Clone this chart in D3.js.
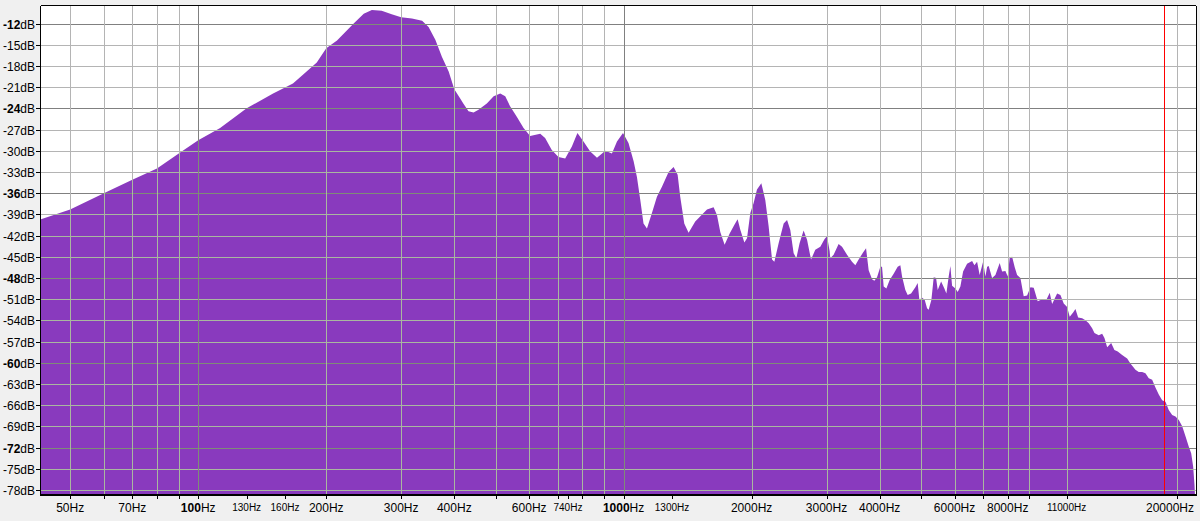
<!DOCTYPE html>
<html><head><meta charset="utf-8">
<script src="https://cdn.jsdelivr.net/npm/d3@7"></script>
<style>html,body{margin:0;padding:0;background:#f0f0f0;}svg{display:block;}</style>
</head><body>
<svg id="c" width="1200" height="521"></svg>
<script>
// Spectrum data (frequency in Hz, level in dB)
const freqs = [
42.7,50,60,70,80,90,100,112.6,130,150,
167,176,190,200,212,232,245,256,270,285,
300,318,336,348,361,374,388,400,413,420,
432,444,456,477,495,513,527,541,561,582,
603,637,654,678,703,729,756,779,805,835,
866,906,939,965,997,1027,1056,1075,1095,1114,
1135,1166,1198,1231,1276,1311,1340,1359,1389,1422,
1474,1542,1571,1628,1658,1688,1728,1776,1821,1854,
1882,1923,1951,1986,2022,2059,2108,2154,2193,2234,
2262,2315,2379,2423,2466,2511,2548,2593,2650,2700,
2759,2823,2901,2969,3009,3051,3062,3118,3203,3263,
3352,3444,3506,3570,3656,3716,3769,3839,3887,3944,
4015,4052,4088,4148,4223,4315,4410,4474,4516,4597,
4655,4742,4853,4914,4959,5033,5104,5170,5216,5293,
5360,5429,5477,5579,5678,5740,5812,5866,5920,6027,
6103,6192,6284,6421,6598,6680,6778,6874,7002,7091,
7157,7218,7352,7485,7661,7761,7902,8000,8088,8194,
8310,8418,8570,8724,8886,9047,9209,9411,9639,9865,
10044,10174,10454,10642,10834,11036,11192,11400,11543,11714,
11970,12185,12406,12636,12794,13095,13339,13506,13706,14006,
14256,14514,14863,15272,15545,15972,16261,16564,16862,17167,
17486,17800,18122,18459,18793,19130,19486,19839,20199,20575,
20943,21322,21599,21834,21990,22050];
const dbs = [
-39.7,-38.3,-36.0,-34.1,-32.5,-30.4,-28.5,-26.8,-24.0,-21.9,
-20.5,-19.3,-17.5,-15.5,-14.4,-12.0,-10.6,-10.1,-10.2,-10.7,
-11.1,-11.3,-11.6,-12.5,-14.3,-16.7,-18.8,-21.3,-22.6,-23.3,
-24.4,-24.6,-24.2,-23.3,-22.3,-21.9,-22.3,-23.7,-25.2,-26.8,
-27.9,-27.6,-28.2,-29.9,-30.9,-31.1,-29.4,-27.5,-28.7,-30.1,
-31.0,-30.0,-30.4,-28.7,-27.5,-28.9,-31.5,-33.7,-37.0,-40.3,
-41.0,-38.8,-36.5,-35.1,-33.0,-32.3,-33.4,-36.5,-40.3,-41.6,
-40.0,-38.8,-38.3,-38.0,-39.1,-41.5,-43.3,-41.7,-40.5,-39.7,
-41.2,-43.0,-42.4,-38.8,-37.4,-35.5,-34.6,-37.0,-40.7,-45.4,
-45.7,-43.1,-40.3,-39.8,-41.2,-44.5,-45.2,-43.1,-41.3,-42.6,
-45.4,-44.0,-43.6,-42.5,-42.1,-44.2,-45.2,-44.7,-43.2,-43.6,
-44.7,-45.7,-46.2,-45.4,-44.4,-43.8,-46.9,-48.2,-48.4,-47.9,
-46.4,-46.4,-49.2,-49.5,-48.3,-47.4,-46.4,-46.2,-47.8,-49.7,
-50.4,-50.2,-49.3,-48.7,-51.1,-50.8,-51.1,-52.3,-52.5,-51.1,
-47.9,-48.0,-49.7,-48.5,-49.5,-50.2,-47.8,-46.3,-49.1,-49.5,
-50.0,-49.2,-47.1,-46.0,-45.6,-46.2,-45.7,-47.6,-45.7,-47.8,
-46.4,-46.3,-48.0,-47.6,-45.9,-47.1,-47.0,-47.8,-45.1,-45.0,
-46.5,-47.6,-48.0,-50.6,-50.5,-49.3,-49.4,-51.3,-51.0,-51.1,
-50.1,-51.7,-50.2,-50.4,-51.6,-52.1,-53.5,-52.9,-52.4,-53.6,
-53.7,-54.0,-54.4,-55.1,-55.8,-56.1,-55.9,-56.5,-57.8,-57.2,
-58.2,-58.4,-58.9,-59.4,-60.1,-61.0,-61.3,-61.3,-61.5,-62.2,
-62.4,-63.5,-64.5,-65.3,-65.5,-66.7,-67.4,-67.6,-68.1,-69.0,
-70.4,-71.9,-72.8,-74.7,-77.3,-79.0];

// Axis ticks / labels
const yTickValues = [-12,-15,-18,-21,-24,-27,-30,-33,-36,-39,-42,-45,-48,-51,-54,-57,-60,-63,-66,-69,-72,-75,-78];
const yMajorValues = [-12,-24,-36,-48,-60,-72];
const xTickValues = [50,60,70,80,90,100,130,160,200,300,400,500,600,700,740,800,900,1000,1300,2000,3000,4000,5000,6000,7000,8000,9000,11000,20000];
const xGridMinor = [50,60,70,80,90,200,300,400,500,600,700,800,900,2000,3000,4000,5000,6000,7000,8000,9000,11000,20000];
const xGridMajor = [100,1000];
const xLabelValues = [50,70,100,130,160,200,300,400,600,740,1000,1300,2000,3000,4000,6000,8000,11000,20000];
const xLabelBold = [100,1000];
const xLabelSmall = [130,160,740,1300,11000];
const cursorFreq = [18720];

const svg = d3.select('#c');
const L=41, R=1196, T=6, B=494;
const x = d3.scaleLog().domain([42.7, 22050]).range([41, 1195]);
const y = d3.scaleLinear().domain([-78.57, -9.52]).range([494, 6]);
const FONT = "'Liberation Sans', Arial, sans-serif";

svg.append('rect').attr('width',1200).attr('height',521).attr('fill','#f0f0f0');
svg.append('rect').attr('x',L).attr('y',T).attr('width',R-L).attr('height',B-T).attr('fill','#ffffff');

const defs = svg.append('defs');
defs.append('clipPath').attr('id','plotclip').append('rect').attr('x',L).attr('y',T).attr('width',R-L).attr('height',B-T);

const pts = freqs.map((f,i)=>[f,dbs[i]]);
const area = d3.area().x(d=>x(d[0])).y0(B).y1(d=>y(d[1])).curve(d3.curveLinear);
const areaPath = area(pts);
defs.append('clipPath').attr('id','areaclip').append('path').attr('d',areaPath);

const g = svg.append('g').attr('clip-path','url(#plotclip)');
g.append('path').attr('d',areaPath).attr('fill','#893abe');

function drawGrid(parent, colMinor, colMajor){
  const gg = parent.append('g').attr('shape-rendering','crispEdges');
  yTickValues.forEach(v=>{
    const yy = Math.round(y(v))+0.5;
    gg.append('line').attr('x1',L).attr('x2',R).attr('y1',yy).attr('y2',yy)
      .attr('stroke', yMajorValues.includes(v)?colMajor:colMinor).attr('stroke-width',1);
  });
  xGridMinor.forEach(v=>{
    const xx = Math.round(x(v))+0.5;
    gg.append('line').attr('x1',xx).attr('x2',xx).attr('y1',T).attr('y2',B).attr('stroke',colMinor);
  });
  xGridMajor.forEach(v=>{
    const xx = Math.round(x(v))+0.5;
    gg.append('line').attr('x1',xx).attr('x2',xx).attr('y1',T).attr('y2',B).attr('stroke',colMajor);
  });
  return gg;
}
drawGrid(g, '#b4b4b4', '#808080');
const ga = g.append('g').attr('clip-path','url(#areaclip)');
drawGrid(ga, '#a9b79f', '#7f8c77');

// cursor (drawn above everything in the plot)
svg.append('g').attr('shape-rendering','crispEdges').selectAll('line.cur').data(cursorFreq).enter().append('line')
  .attr('class','cur')
  .attr('x1',d=>Math.floor(x(d))+0.5).attr('x2',d=>Math.floor(x(d))+0.5)
  .attr('y1',T).attr('y2',B)
  .style('stroke','#ff0000').style('stroke-width','1px');

// frame
const fr = svg.append('g').attr('shape-rendering','crispEdges');
fr.append('line').attr('x1',L-0.5).attr('x2',R).attr('y1',T-0.5).attr('y2',T-0.5).attr('stroke','#000');
fr.append('line').attr('x1',L-0.5).attr('x2',L-0.5).attr('y1',T-0.5).attr('y2',B+1).attr('stroke','#000');
fr.append('line').attr('x1',R+0.5).attr('x2',R+0.5).attr('y1',T-0.5).attr('y2',B+1).attr('stroke','#000');
fr.append('line').attr('x1',L-1).attr('x2',R+1).attr('y1',B+0.5).attr('y2',B+0.5).attr('stroke','#000');
fr.append('line').attr('x1',L-1).attr('x2',R+1).attr('y1',B+1.5).attr('y2',B+1.5).attr('stroke','#000');

// Y axis
const ya = svg.append('g');
yTickValues.forEach(v=>{
  const yy = Math.round(y(v))+0.5;
  ya.append('line').attr('x1',36).attr('x2',L).attr('y1',yy).attr('y2',yy).attr('stroke','#000').attr('shape-rendering','crispEdges');
  const t = ya.append('text').attr('x',35).attr('y',yy+4.5).attr('text-anchor','end')
    .attr('font-family',FONT).attr('font-size',12).attr('fill','#000');
  const major = yMajorValues.includes(v);
  t.append('tspan').text(String(v)).attr('font-weight', major?'bold':'normal');
  t.append('tspan').text('dB');
});

// X axis
const xa = svg.append('g');
xTickValues.forEach(v=>{
  const xx = Math.round(x(v))+0.5;
  xa.append('line').attr('x1',xx).attr('x2',xx).attr('y1',B+1).attr('y2',B+5).attr('stroke','#000').attr('shape-rendering','crispEdges');
});
xLabelValues.forEach(v=>{
  const small = xLabelSmall.includes(v), bold = xLabelBold.includes(v);
  const t = xa.append('text').attr('y', small?511:512).attr('text-anchor','middle')
    .attr('font-family',FONT).attr('font-size', small?10:12).attr('fill','#000');
  t.append('tspan').text(String(v)).attr('font-weight', bold?'bold':'normal');
  t.append('tspan').text('Hz');
  let cx = x(v);
  t.attr('x', cx);
  const w = t.node().getComputedTextLength();
  if (cx + w/2 > 1194) t.attr('x', 1194 - w/2);
});
</script>
</body></html>
